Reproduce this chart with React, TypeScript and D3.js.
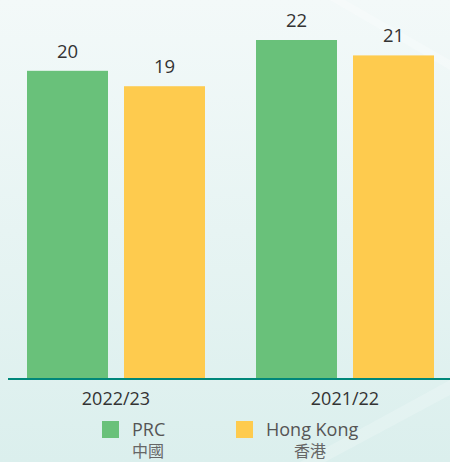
import React from 'react';
import * as d3 from 'd3';

const categories = ['2022/23', '2021/22'];
const seriesNames = ['PRC', 'Hong Kong'];
const seriesZh = ['中國', '香港'];
const seriesColors = ['#69c17a', '#fecb4e'];
const prcValues = [20, 22];
const hkValues = [19, 21];

const W = 450;
const H = 462;
const baseline = 379;

export default function App() {
  const x0 = d3.scaleBand().domain(categories).range([2, 460]).padding(0);
  const x1 = d3.scaleBand().domain(seriesNames).range([25, 203]).paddingInner(0.165).paddingOuter(0);
  const y = d3.scaleLinear().domain([0, 22]).range([baseline, 40]);

  const rows = categories.map((c, i) => ({ cat: c, vals: [prcValues[i], hkValues[i]] }));

  return (
    <div style={{ position: 'absolute', left: 0, top: 0 }}>
      <svg width={W} height={H} style={{ display: 'block', fontFamily: '"Open Sans", "Noto Sans", sans-serif' }}>
        <defs>
          <linearGradient id="bg" x1="0" y1="0" x2="0" y2="1">
            <stop offset="0" stopColor="#f3f9f9" />
            <stop offset="1" stopColor="#dbefed" />
          </linearGradient>
        </defs>
        <rect width={W} height={H} fill="url(#bg)" />
        <path d="M330,0 L450,70 L450,60 L345,0 Z" fill="#ffffff" opacity={0.25} />
        <path d="M300,462 L450,380 L450,395 L325,462 Z" fill="#ffffff" opacity={0.2} />

        {rows.map(r => (
          <g key={r.cat} transform={`translate(${x0(r.cat)},0)`}>
            {r.vals.map((v, j) => (
              <g key={seriesNames[j]}>
                <rect
                  x={x1(seriesNames[j])}
                  y={y(v)}
                  width={x1.bandwidth()}
                  height={baseline - y(v)}
                  fill={seriesColors[j]}
                />
                <text
                  x={(x1(seriesNames[j]) as number) + x1.bandwidth() / 2}
                  y={y(v) - 13}
                  textAnchor="middle"
                  fontSize={18.5}
                  fill="#333"
                >
                  {v}
                </text>
              </g>
            ))}
            <text x={x0.bandwidth() / 2 - 0.5} y={405} textAnchor="middle" fontSize={18} fill="#333">
              {r.cat}
            </text>
          </g>
        ))}

        <line x1={8} x2={W} y1={baseline} y2={baseline} stroke="#00877a" strokeWidth={2} />

        {seriesNames.map((s, i) => {
          const lx = [102, 236][i];
          return (
            <g key={s}>
              <rect x={lx} y={421} width={17} height={17} fill={seriesColors[i]} />
              <text x={lx + 30} y={436} fontSize={18} fill="#555">{s}</text>
              <text
                x={[148, 310][i]}
                y={457}
                textAnchor="middle"
                fontSize={16}
                fill="#666"
                fontFamily='"Noto Sans CJK TC", sans-serif'
              >
                {seriesZh[i]}
              </text>
            </g>
          );
        })}
      </svg>
    </div>
  );
}
